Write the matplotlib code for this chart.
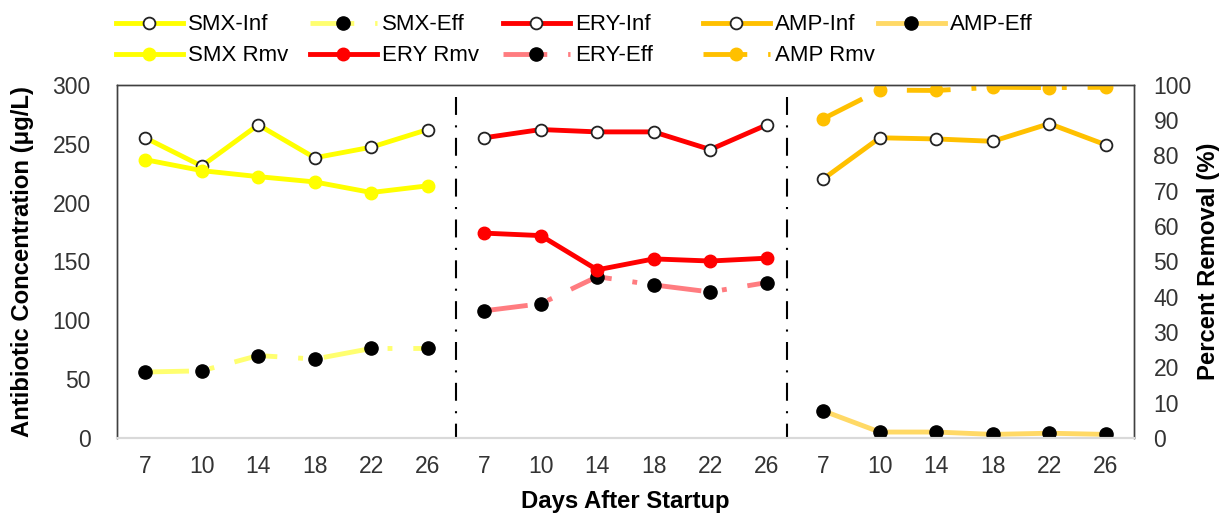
import matplotlib
matplotlib.use("Agg")
import matplotlib.pyplot as plt
import numpy as np

plt.rcParams['font.family'] = ['Liberation Sans', 'DejaVu Sans']

days = [7, 10, 14, 18, 22, 26]

smx_inf = [255, 231, 266, 238, 247, 262]
smx_eff = [56, 57, 70, 67, 76, 76]
smx_rmv = [78.8, 75.7, 74.0, 72.5, 69.5, 71.4]

ery_inf = [255, 262, 260, 260, 245, 266]
ery_eff = [108, 114, 137, 130, 124, 132]
ery_rmv = [58.0, 57.3, 47.6, 50.7, 50.1, 50.9]

amp_inf = [220, 255, 254, 252, 267, 249]
amp_eff = [23, 5, 5, 3, 4, 3]
amp_rmv = [90.4, 98.5, 98.4, 99.3, 99.2, 99.3]

x_smx = np.arange(0, 6)
x_ery = np.arange(6, 12)
x_amp = np.arange(12, 18)

YEL, YEL_L = '#FFFF00', '#FFFF70'
RED, RED_L = '#FF0000', '#FF7C80'
ORG, ORG_L = '#FFC000', '#FFD966'
dashdot = (9, 4.3, 1, 4.3)

fig = plt.figure(figsize=(12.26, 5.14), dpi=100)
ax = fig.add_axes([0.0954, 0.148, 0.8296, 0.687])
ax2 = ax.twinx()

lw = 3.5
inf_kw = dict(lw=lw, marker='o', ms=8.5, mfc='white', mec='#222222', mew=1.3)
eff_kw = dict(lw=lw, marker='o', ms=9.5, mfc='black', mec='black')
rmv_kw = dict(lw=lw, marker='o', ms=9)

h = {}
h['SMX-Inf'], = ax.plot(x_smx, smx_inf, color=YEL, **inf_kw)
h['SMX-Eff'], = ax.plot(x_smx, smx_eff, color=YEL_L, dashes=dashdot, **eff_kw)
h['ERY-Inf'], = ax.plot(x_ery, ery_inf, color=RED, **inf_kw)
h['ERY-Eff'], = ax.plot(x_ery, ery_eff, color=RED_L, dashes=dashdot, **eff_kw)
h['AMP-Inf'], = ax.plot(x_amp, amp_inf, color=ORG, **inf_kw)
h['AMP-Eff'], = ax.plot(x_amp, amp_eff, color=ORG_L, **eff_kw)

h['SMX Rmv'], = ax2.plot(x_smx, smx_rmv, color=YEL, mfc=YEL, mec=YEL, **rmv_kw)
h['ERY Rmv'], = ax2.plot(x_ery, ery_rmv, color=RED, mfc=RED, mec=RED, **rmv_kw)
h['AMP Rmv'], = ax2.plot(x_amp, amp_rmv, color=ORG, mfc=ORG, mec=ORG,
                         dashes=dashdot, **rmv_kw)

# group separators
for xs in (5.5, 11.35):
    ax.plot([xs, xs], [290, 0], color='black', lw=1.5, dashes=(8.6, 5, 1, 5))

ax.set_xlim(-0.5, 17.5)
ax.set_ylim(0, 300)
ax2.set_ylim(0, 100)
ax.set_yticks(range(0, 301, 50))
ax2.set_yticks(range(0, 101, 10))
ax.set_xticks(np.arange(18))
ax.set_xticklabels([str(d) for d in days * 3])

for a in (ax, ax2):
    a.tick_params(length=0, labelsize=16.5, colors='#333333')
    for s in ('left', 'right', 'top'):
        a.spines[s].set_color('#404040')
        a.spines[s].set_linewidth(1.0)
    a.spines['bottom'].set_color('#D9D9D9')
    a.spines['bottom'].set_linewidth(1.5)
ax.tick_params(axis='x', pad=12)
ax.tick_params(axis='y', pad=19)
ax2.tick_params(axis='y', pad=14)

ax.set_ylabel('Antibiotic Concentration (μg/L)', fontsize=17.2,
              fontweight='bold', labelpad=13)
ax2.set_ylabel('Percent Removal (%)', fontsize=17.2, fontweight='bold',
               labelpad=4)
ax.set_xlabel('Days After Startup', fontsize=17.2, fontweight='bold',
              labelpad=9)

# legend laid out in five fixed columns
columns = [['SMX-Inf', 'SMX Rmv'], ['SMX-Eff', 'ERY Rmv'],
           ['ERY-Inf', 'ERY-Eff'], ['AMP-Inf', 'AMP Rmv'], ['AMP-Eff']]
col_x = [116, 310, 503, 703, 878]
for names, px in zip(columns, col_x):
    leg = fig.legend([h[k] for k in names], names, loc='upper left',
                     bbox_to_anchor=(px / 1226, 0.972), frameon=False,
                     fontsize=16, handlelength=3.0, handletextpad=0.25,
                     labelspacing=0.45, borderpad=0, borderaxespad=0)

fig.savefig('out.png', dpi=100)
